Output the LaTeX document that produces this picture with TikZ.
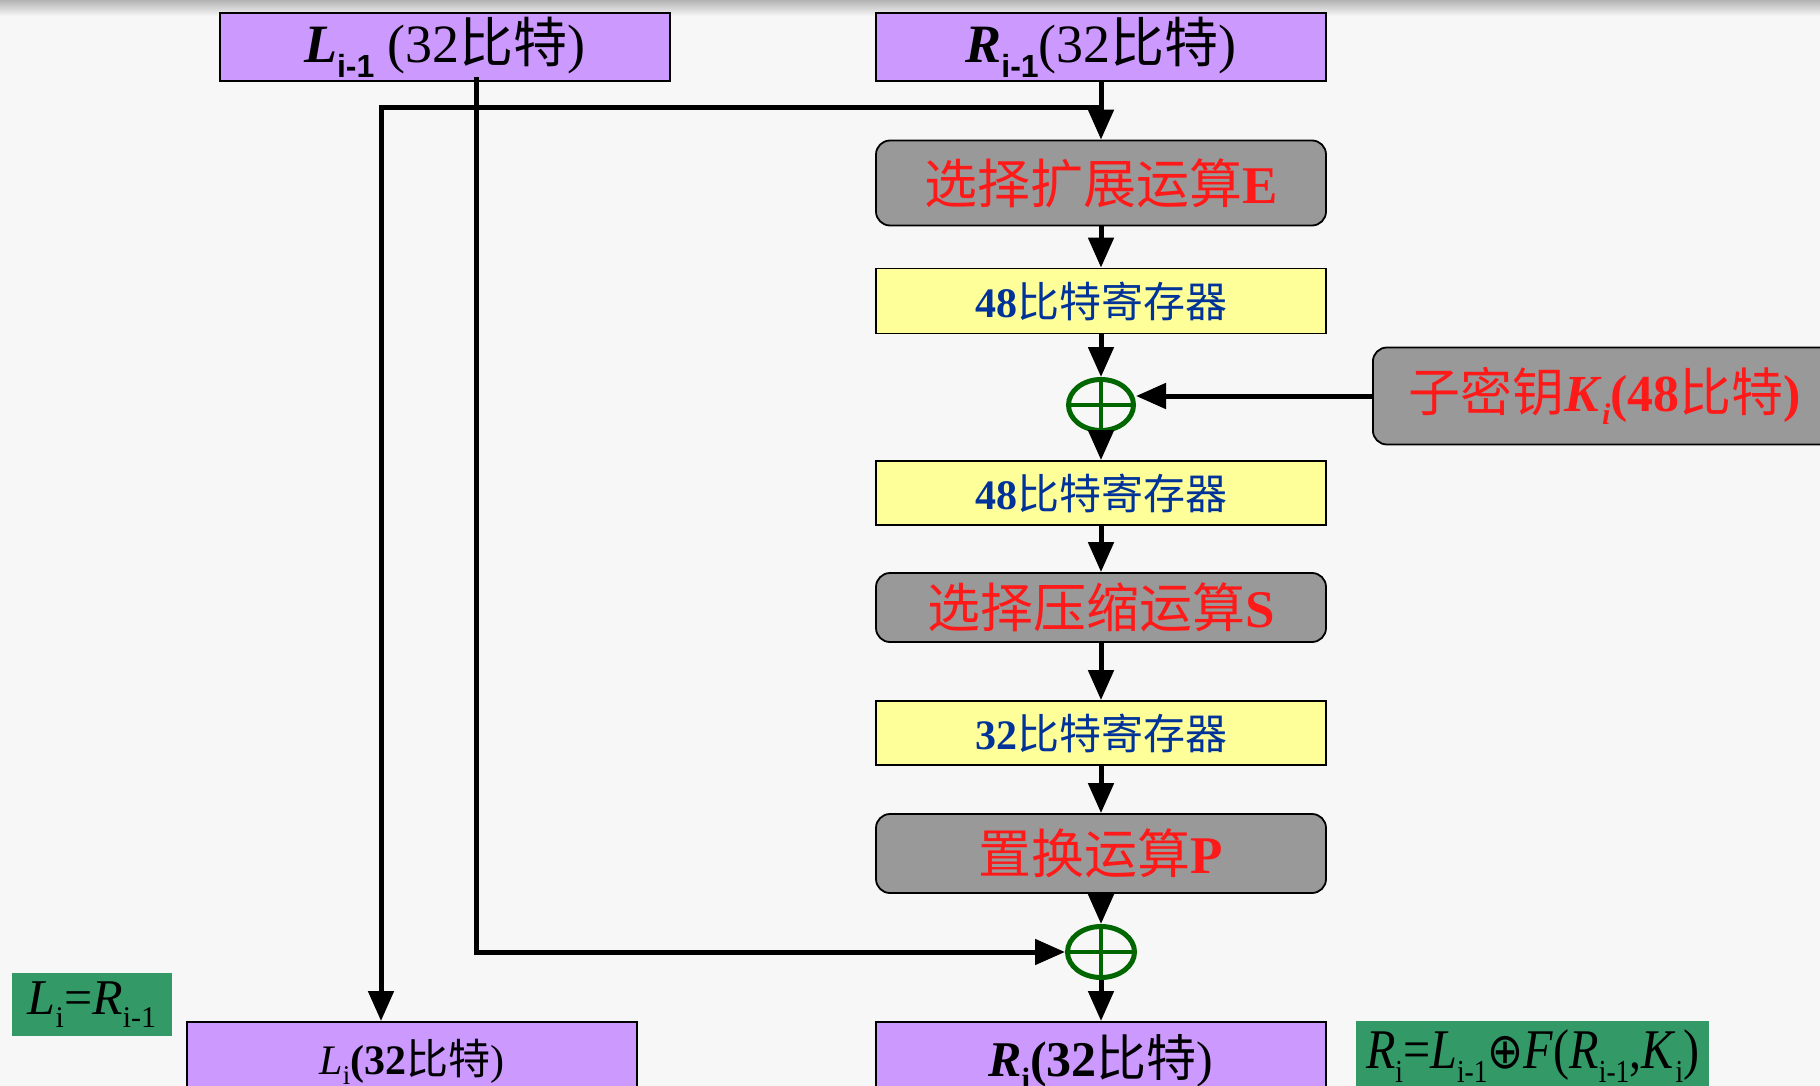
\documentclass[tikz,border=0pt]{standalone}
\usepackage{fontspec}
\setmainfont{Liberation Serif}
\newfontfamily\cjk{Noto Sans CJK SC}
\newfontfamily\arial{Liberation Sans}
\newfontfamily\dejavu{DejaVu Sans}
\usetikzlibrary{arrows.meta,shapes.geometric}
\definecolor{lilac}{HTML}{CC99FF}
\definecolor{boxgray}{HTML}{999999}
\definecolor{lemon}{HTML}{FFFF99}
\definecolor{navy}{HTML}{003399}
\definecolor{xorgreen}{HTML}{006600}
\definecolor{labgreen}{HTML}{339966}
\definecolor{opred}{HTML}{FF1A1A}
\newcommand\fs[1]{\fontsize{#1}{#1}\selectfont}
\begin{document}
\begin{tikzpicture}[x=1pt,y=-1pt,
  purplebox/.style={draw=black, line width=1.8pt, fill=lilac, minimum width=450pt, minimum height=68pt, inner sep=0pt},
  opbox/.style={draw=black, line width=1.8pt, fill=boxgray, rounded corners=14pt, minimum width=450pt, inner sep=0pt, text=opred},
  regbox/.style={draw=black, line width=1.8pt, fill=lemon, minimum width=450pt, minimum height=65pt, inner sep=0pt, text=navy},
  xorop/.style={ellipse, draw=xorgreen, line width=5pt, minimum width=65pt, minimum height=51pt, inner sep=0pt,
    path picture={\draw[xorgreen,line width=4pt] (path picture bounding box.north) -- (path picture bounding box.south) (path picture bounding box.west) -- (path picture bounding box.east);}},
  eqlabel/.style={fill=labgreen, inner sep=0pt},
  flow/.style={line width=5pt, -{Triangle[length=30pt,width=25pt]}}]
\useasboundingbox (0,0) rectangle (1820,1086);
\fill[white!97!black] (0,0) rectangle (1820,1086);
\shade[top color=black!30, bottom color=white!97!black] (0,0) rectangle (1820,16);

% top boxes
\node[purplebox] (Lp) at (445,47) {\fs{54}\textbf{\textit{L}}\raisebox{-0.28em}{\arial\bfseries\fs{32}i-1} (32{\cjk 比特})};
\node[purplebox] (Rp) at (1101,47) {\fs{54}\textbf{\textit{R}}\raisebox{-0.28em}{\arial\bfseries\fs{32}i-1}(32{\cjk 比特})};

% main column
\node[opbox, minimum height=85pt] (E) at (1101,183) {\fs{53}{\cjk 选择扩展运算}\textbf{E}};
\node[regbox] (r1) at (1101,301) {\fs{42}\textbf{48}{\cjk 比特寄存器}};
\node[xorop] (x1) at (1101,405) {};
\node[opbox, minimum width=464pt, minimum height=97pt, anchor=west] (K) at (1372,396)
  {\fs{52}{\cjk 子密钥}\textbf{\textit{K}}\raisebox{-0.25em}{\bfseries\itshape\fs{30}i}\textbf{(48}{\cjk 比特}\textbf{)}};
\node[regbox, minimum height=64pt] (r2) at (1101,493) {\fs{42}\textbf{48}{\cjk 比特寄存器}};
\node[opbox, minimum height=69pt] (S) at (1101,607.5) {\raisebox{-10pt}{\fs{53}{\cjk 选择压缩运算}\textbf{S}}};
\node[regbox, minimum height=64pt] (r3) at (1101,733) {\fs{42}\textbf{32}{\cjk 比特寄存器}};
\node[opbox, minimum height=79pt] (P) at (1101,853.5) {\raisebox{-4pt}{\fs{53}{\cjk 置换运算}\textbf{P}}};
\node[xorop, minimum width=67pt] (x2) at (1101,952) {};

% bottom boxes
\node[purplebox, minimum height=80pt, anchor=north] (Ln) at (412,1021) {\raisebox{6pt}{\fs{42}\textit{L}\raisebox{-0.25em}{\fs{27}i}\textbf{(32}{\cjk 比特})}};
\node[purplebox, minimum height=80pt, anchor=north] (Rn) at (1101,1021) {\raisebox{6pt}{\fs{50}\textbf{\textit{R}}\raisebox{-0.25em}{\bfseries\fs{31}i}\textbf{(32}{\cjk 比特})}};

% formula labels
\node[eqlabel, minimum width=160pt, minimum height=63pt] (eqL) at (92,1004.5) {\fs{50}\textit{L}\raisebox{-0.25em}{\fs{30}i}=\textit{R}\raisebox{-0.25em}{\fs{30}i-1}};
\node[eqlabel, minimum width=353pt, minimum height=70pt, anchor=north west] (eqR) at (1356,1021)
  {\scalebox{0.86}[1]{\fs{56}\textit{R}\raisebox{-0.25em}{\fs{32}i}=\textit{L}\raisebox{-0.25em}{\fs{32}i-1}{\dejavu\fs{50}⊕}\textit{F}(\textit{R}\raisebox{-0.25em}{\fs{32}i-1},\textit{K}\raisebox{-0.25em}{\fs{32}i})}};

% connectors
\coordinate (branch) at (1101,108);
\coordinate (lcorner) at (381,108);
\coordinate (ltap) at (476,77);
\draw[flow] (Rp.south) -- (E.north);
\draw[flow] (branch) -- (lcorner) -- (lcorner |- Ln.north);
\draw[flow] (ltap) |- (x2.west);
\draw[flow] (E.south) -- (r1.north);
\draw[flow] (r1.south) -- (x1.north);
\draw[flow] (K.west) -- (x1.east |- K.west);
\draw[flow] (x1.south) -- (r2.north);
\draw[flow] (r2.south) -- (S.north);
\draw[flow] (S.south) -- (r3.north);
\draw[flow] (r3.south) -- (P.north);
\draw[flow] (P.south) -- (x2.north);
\draw[flow] (x2.south) -- (Rn.north);
\end{tikzpicture}
\end{document}
